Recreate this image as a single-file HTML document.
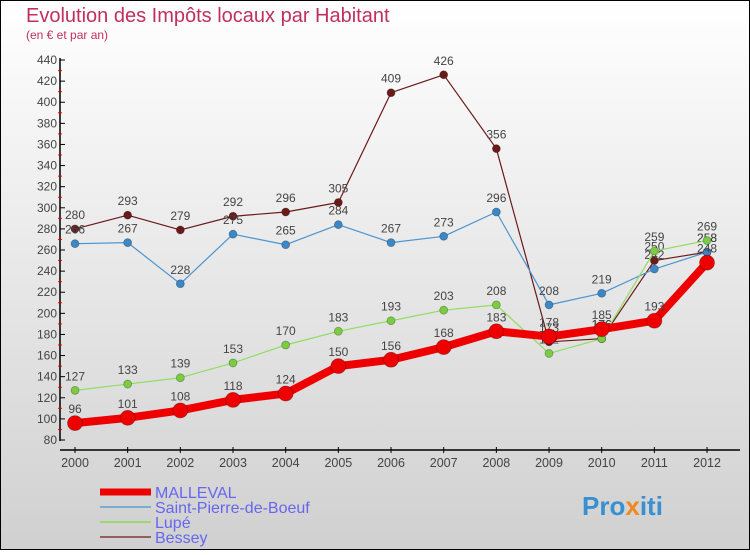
<!DOCTYPE html>
<html><head><meta charset="utf-8"><style>
html,body{margin:0;padding:0}
body{width:750px;height:550px;overflow:hidden;font-family:"Liberation Sans",sans-serif}
</style></head><body>
<svg width="750" height="550" xmlns="http://www.w3.org/2000/svg">
<defs><linearGradient id="bg" x1="0" y1="0" x2="0" y2="1"><stop offset="0" stop-color="#ffffff"/><stop offset="1" stop-color="#d0d0d0"/></linearGradient></defs>
<rect x="0.5" y="0.5" width="749" height="549" fill="url(#bg)" stroke="#000"/>
<text x="26" y="22" font-size="20" fill="#c0305a">Evolution des Impôts locaux par Habitant</text>
<text x="26" y="39" font-size="12" fill="#c0305a">(en € et par an)</text>
<g id="axes"></g>
<g id="series"></g>
<g id="legend"></g>
<text x="582" y="515" font-size="26" font-weight="bold" fill="#3a8fd0">Pro<tspan fill="#f08a20">x</tspan>iti</text>
</svg>
<script>
const years=[2000,2001,2002,2003,2004,2005,2006,2007,2008,2009,2010,2011,2012];
const yTicks=[80,100,120,140,160,180,200,220,240,260,280,300,320,340,360,380,400,420,440];
const malleval=[96,101,108,118,124,150,156,168,183,178,185,193,248];
const stPierre=[266,267,228,275,265,284,267,273,296,208,219,242,258];
const lupe=[127,133,139,153,170,183,193,203,208,162,176,259,269];
const bessey=[280,293,279,292,296,305,409,426,356,173,176,250,258];
const NS="http://www.w3.org/2000/svg";
const X=i=>75+i*52.67;
const Y=v=>440-(v-80)*21.11/20;
function el(t,a,p){const e=document.createElementNS(NS,t);for(const k in a)e.setAttribute(k,a[k]);p.appendChild(e);return e;}
const ax=document.getElementById('axes');
let yl=el('line',{x1:60,y1:58,x2:60,y2:441,stroke:'#000','stroke-width':1.5},ax);


yTicks.forEach((v,i)=>{
  el('line',{x1:60,y1:Y(v),x2:65,y2:Y(v),stroke:'#000'},ax);
  if(i<yTicks.length-1){el('line',{x1:58,y1:Y(v+10),x2:62,y2:Y(v+10),stroke:'#e00'},ax);}
  const t=el('text',{x:57,y:Y(v)+4,'font-size':12,'text-anchor':'end',fill:'#444'},ax);
  t.textContent=v;
  
  
});
let xl=el('line',{x1:60,y1:450,x2:740,y2:450,stroke:'#000','stroke-width':1.5},ax);


years.forEach((y,i)=>{
  el('line',{x1:X(i),y1:447,x2:X(i),y2:453,stroke:'#000'},ax);
  const t=el('text',{x:X(i),y:467,'font-size':12.5,'text-anchor':'middle',fill:'#444'},ax);
  t.textContent=y;
  
  
});
const sg=document.getElementById('series');
function series(data,color,lw,r,name,dot){
  const g=el('g',{},sg);
  
  
  const pl=el('polyline',{points:data.map((v,i)=>X(i)+','+Y(v)).join(' '),fill:'none',stroke:color,'stroke-width':lw,'stroke-linejoin':'round'},g);
  
  
  data.forEach((v,i)=>{
    const c=el('circle',{cx:X(i),cy:Y(v),r:r,fill:dot||color,stroke:'rgba(0,0,0,0.3)','stroke-width':0.8},g);
    
    
    const t=el('text',{x:X(i),y:Y(v)-10,'font-size':12,'text-anchor':'middle',fill:'#444'},g);
    t.textContent=v;
    
    
  });
}
series(bessey,'#6b1a1a',1.2,4,'bessey','#6b1a1a');
series(stPierre,'#4a94d0',1.2,4,'saint-pierre-de-boeuf','#3a88c8');
series(lupe,'#90dd60',1.2,4,'lupe','#7acc40');
series(malleval,'#ee0000',8,7.5,'malleval','#ee0000');
const lg=document.getElementById('legend');
[['MALLEVAL','#ee0000',7],['Saint-Pierre-de-Boeuf','#7aaed0',2],['Lupé','#9ad870',2],['Bessey','#906060',2]].forEach((d,i)=>{
  const y=492+i*15;
  const g=el('g',{},lg);
  
  
  el('line',{x1:100,y1:y,x2:151,y2:y,stroke:d[1],'stroke-width':d[2]},g);
  const t=el('text',{x:155,y:y+6,'font-size':16,fill:'#6666ee'},g);
  t.textContent=d[0];
});
</script>
</body></html>
